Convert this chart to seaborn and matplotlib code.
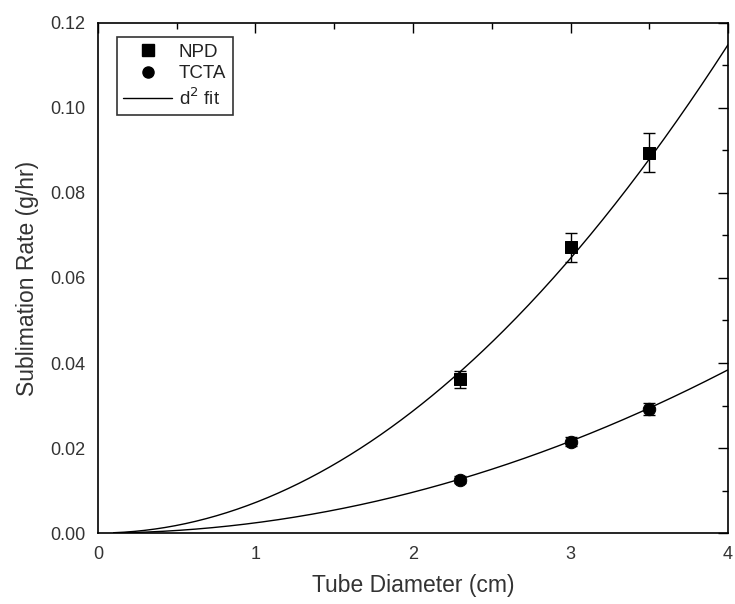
import numpy as np
import pandas as pd
import matplotlib
matplotlib.use("Agg")
import matplotlib.pyplot as plt
import seaborn as sns
from matplotlib.ticker import MultipleLocator
from matplotlib.lines import Line2D

# Data
diam = [2.3, 3.0, 3.5]
npd_rate = [0.0362, 0.0672, 0.0895]
npd_err = [0.0020, 0.0035, 0.0045]
tcta_rate = [0.0125, 0.0215, 0.0292]
tcta_err = [0.0008, 0.0010, 0.0015]
# d^2 fit coefficients (rate = a * d^2)
fit_coef_npd = 0.00718
fit_coef_tcta = 0.00240
fit_range = [0.1, 4.0]
legend_labels = ["NPD", "TCTA", "d$^2$ fit"]

sns.set_theme(style="white")
plt.rcParams['font.family'] = ['Liberation Sans', 'DejaVu Sans']

fig = plt.figure(figsize=(7.35, 6.04), dpi=100)
ax = fig.add_axes([0.1333, 0.1175, 0.8572, 0.8445])

d = np.linspace(fit_range[0], fit_range[1], 300)
fit_df = pd.concat([
    pd.DataFrame({"d": d, "rate": fit_coef_npd * d**2, "s": "NPD"}),
    pd.DataFrame({"d": d, "rate": fit_coef_tcta * d**2, "s": "TCTA"}),
])
sns.lineplot(data=fit_df, x="d", y="rate", units="s", estimator=None,
             color="black", lw=1.0, ax=ax, legend=False)

ax.errorbar(diam, npd_rate, yerr=npd_err, fmt="none", ecolor="black",
            elinewidth=1.0, capsize=4, capthick=1.0)
ax.errorbar(diam, tcta_rate, yerr=tcta_err, fmt="none", ecolor="black",
            elinewidth=1.0, capsize=4, capthick=1.0)
sns.scatterplot(x=diam, y=npd_rate, marker="s", s=80, color="black",
                edgecolor="black", ax=ax, zorder=5)
sns.scatterplot(x=diam, y=tcta_rate, marker="o", s=80, color="black",
                edgecolor="black", ax=ax, zorder=5)

ax.set_xlim(0, 4)
ax.set_ylim(0, 0.12)
ax.xaxis.set_major_locator(MultipleLocator(1))
ax.xaxis.set_minor_locator(MultipleLocator(0.5))
ax.yaxis.set_major_locator(MultipleLocator(0.02))
ax.yaxis.set_minor_locator(MultipleLocator(0.01))
ax.yaxis.set_major_formatter(matplotlib.ticker.FormatStrFormatter("%.2f"))
ax.tick_params(which="both", direction="in", top=True, right=True,
               colors="black", labelcolor="#333333", labelsize=13, pad=9)
ax.tick_params(which="major", length=7, width=1)
ax.tick_params(which="minor", length=4, width=1)
for sp in ax.spines.values():
    sp.set_color("black")
    sp.set_linewidth(1.2)

ax.set_xlabel("Tube Diameter (cm)", fontsize=16.5, color="#333333", labelpad=8)
ax.set_ylabel("Sublimation Rate (g/hr)", fontsize=16.5, color="#333333", labelpad=8)

handles = [
    Line2D([], [], marker="s", color="black", ls="none", markersize=8),
    Line2D([], [], marker="o", color="black", ls="none", markersize=8),
    Line2D([], [], color="black", lw=1.0),
]
leg = ax.legend(handles, legend_labels, loc="upper left",
                bbox_to_anchor=(0.03, 0.9725), frameon=True, fancybox=False,
                edgecolor="black", fontsize=13.5, handlelength=2.6,
                borderpad=0.35, labelspacing=0.25, handletextpad=0.35,
                borderaxespad=0)
leg.get_frame().set_linewidth(1.2)
for t in leg.get_texts():
    t.set_color("#222222")

fig.savefig("out.png", dpi=100)
